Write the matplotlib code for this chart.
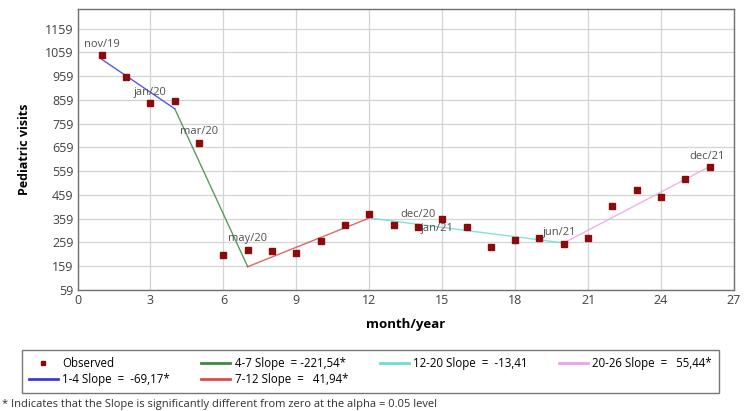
import matplotlib
matplotlib.use("Agg")
import matplotlib.pyplot as plt
from matplotlib.lines import Line2D

plt.rcParams['font.family'] = ['Open Sans', 'DejaVu Sans']

# Observed monthly pediatric visits (nov/19 .. dec/21)
months = list(range(1, 27))
visits = [1048, 954, 845, 854, 679, 205, 228, 225, 214, 266, 333, 378, 332,
          326, 357, 323, 240, 269, 276, 253, 280, 411, 481, 450, 526, 575]

# Fitted segments (start month, end month) and fitted values at both ends
seg_months = [(1, 4), (4, 7), (7, 12), (12, 20), (20, 26)]
seg_values = [(1030, 822), (822, 157), (157, 362), (362, 257), (257, 579)]
seg_labels = ['1-4 Slope  =  -69,17*', '4-7 Slope  = -221,54*',
              '7-12 Slope  =   41,94*', '12-20 Slope  =  -13,41',
              '20-26 Slope  =   55,44*']
seg_colors = ['#3b3bd4', '#3f8a3f', '#e04a4a', '#6fdcd3', '#e8a6e8']

# Month labels written next to some points
ann_text = ['nov/19', 'jan/20', 'mar/20', 'may/20', 'dec/20', 'jan/21', 'jun/21', 'dec/21']
ann_x = [1, 3, 5, 7, 14, 14.8, 19.8, 25.9]
ann_y = [1093, 891, 726, 274, 378, 316, 299, 621]

yticks = list(range(59, 1160, 100))
xticks = list(range(0, 28, 3))

fig = plt.figure(figsize=(7.48, 4.11), dpi=100)
ax = fig.add_axes([77.5 / 748, 1 - 290 / 411, (734 - 77.5) / 748, (290 - 9) / 411])

ax.set_xlim(0, 27)
ax.set_ylim(59, 1242)
ax.set_xticks(xticks)
ax.set_yticks(yticks)
ax.grid(True, color='#d4d4d4', linewidth=0.9)
ax.set_axisbelow(True)
ax.tick_params(length=0, labelsize=9, colors='#404040', pad=3)
for s in ax.spines.values():
    s.set_color('#707070')
    s.set_linewidth(1)

for (x0, x1), (y0, y1), c in zip(seg_months, seg_values, seg_colors):
    ax.plot([x0, x1], [y0, y1], color=c, linewidth=1, alpha=0.85)

ax.plot(months, visits, linestyle='none', marker='s', markersize=4.2,
        color='#8b0a0a', zorder=3)

for t, x, y in zip(ann_text, ann_x, ann_y):
    ax.text(x, y, t, ha='center', va='center', fontsize=8, color='#505050')

ax.set_ylabel('Pediatric visits', fontsize=9, fontweight='bold', labelpad=10)
ax.set_xlabel('month/year', fontsize=9.5, fontweight='bold', labelpad=8)

handles = [Line2D([], [], linestyle='none', marker='s', markersize=3.5, color='#8b0a0a')]
handles += [Line2D([], [], color=c, linewidth=2) for c in seg_colors]
labels = ['Observed'] + seg_labels
leg = fig.legend(handles, labels, ncol=4, loc='upper left',
                 bbox_to_anchor=(22 / 748, 1 - 392 / 411, 697 / 748, 42 / 411),
                 mode='expand', borderaxespad=0, fontsize=8.3, frameon=True,
                 fancybox=False, edgecolor='#555555', handlelength=2.5,
                 borderpad=0.6, labelspacing=0.25, handletextpad=0.4)
leg.get_frame().set_linewidth(1)

fig.text(2 / 748, 1 - 404 / 411, '* Indicates that the Slope is significantly different from zero at the alpha = 0.05 level',
         fontsize=8, color='#303030', va='center', ha='left')

fig.savefig('out.png', dpi=100)
